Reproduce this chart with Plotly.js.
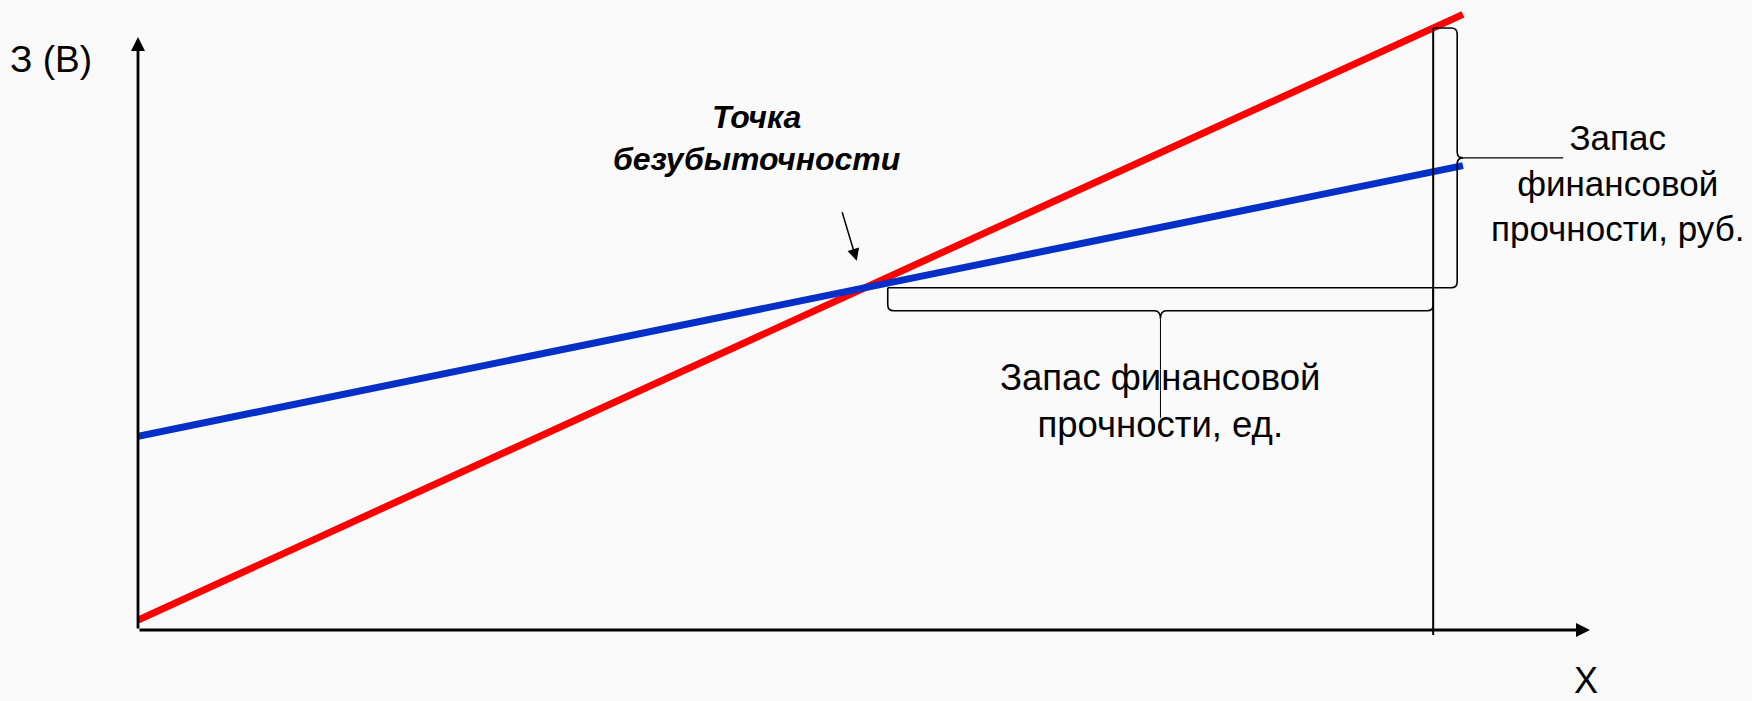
<!DOCTYPE html>
<html>
<head>
<meta charset="utf-8">
<script src="https://cdn.plot.ly/plotly-3.0.1.min.js"></script>
<style>
  html, body { margin: 0; padding: 0; background: #fafafa; }
  #chart { width: 1752px; height: 701px; }
</style>
</head>
<body>
<div id="chart"></div>
<script>
// ---- data ----
const volume = [0, 91.25];          // X: sales volume at the ends of the lines
const revenue = [1.6, 98.5];        // red line: revenue (В)
const costs = [31.0, 74.3];         // blue line: total costs (З)
const actualVolume = 89.2;          // actual sales volume (vertical line)

const yLabel = 'З (В)';
const xLabel = 'X';
const breakevenLabel = ['Точка', 'безубыточности'];
const marginUnitsLabel = 'Запас финансовой<br>прочности, ед.';
const marginRubLabel = 'Запас<br>финансовой<br>прочности, руб.';

// ---- derived values ----
const slope = (ys) => (ys[1] - ys[0]) / (volume[1] - volume[0]);
const rs = slope(revenue), cs = slope(costs);
const beX = (costs[0] - revenue[0]) / (rs - cs);
const beY = revenue[0] + rs * beX;
const revAt = (q) => revenue[0] + rs * q;

// pixel-to-data helpers
const X_RANGE = [0, 100], Y_RANGE = [0, 100];
const M = { l: 138, r: 162, t: 5, b: 71, pad: 0 };
const PW = 1752 - M.l - M.r, PH = 701 - M.t - M.b;
const dx = (px) => px * (X_RANGE[1] - X_RANGE[0]) / PW;
const dy = (px) => px * (Y_RANGE[1] - Y_RANGE[0]) / PH;
const pt = (u, v) => u + ',' + v;

// bottom brace (margin in units)
const bL = beX + dx(23), bR = actualVolume;
const bTop = beY, bBody = beY - dy(23);
const bMid = (bL + bR) / 2, bTip = bBody - dy(8);
const rx = dx(6), ry = dy(6);
const bottomBrace = 'M' + pt(bL, bTop) + ' L' + pt(bL, bBody + ry) +
  ' Q' + pt(bL, bBody) + ' ' + pt(bL + rx, bBody) +
  ' L' + pt(bMid - rx, bBody) + ' Q' + pt(bMid, bBody) + ' ' + pt(bMid, bTip) +
  ' Q' + pt(bMid, bBody) + ' ' + pt(bMid + rx, bBody) +
  ' L' + pt(bR - rx, bBody) + ' Q' + pt(bR, bBody) + ' ' + pt(bR, bBody + ry) +
  ' L' + pt(bR, bTop);

// right brace (margin in roubles)
const rX = actualVolume + dx(24);
const rTop = revAt(actualVolume), rBot = beY, rMid = (rTop + rBot) / 2;
const rTipX = rX + dx(6);
const rightBrace = 'M' + pt(actualVolume, rTop) + ' L' + pt(rX - rx, rTop) +
  ' Q' + pt(rX, rTop) + ' ' + pt(rX, rTop - ry) +
  ' L' + pt(rX, rMid + ry) + ' Q' + pt(rX, rMid) + ' ' + pt(rTipX, rMid) +
  ' Q' + pt(rX, rMid) + ' ' + pt(rX, rMid - ry) +
  ' L' + pt(rX, rBot + ry) + ' Q' + pt(rX, rBot) + ' ' + pt(rX - rx, rBot) +
  ' L' + pt(bL, rBot);

const traces = [
  { x: volume, y: revenue, mode: 'lines', line: { color: '#ff0000', width: 7 }, hoverinfo: 'skip' },
  { x: volume, y: costs, mode: 'lines', line: { color: '#0530c8', width: 7 }, hoverinfo: 'skip' }
];

const thin = { color: '#000', width: 1.6 };
const shapes = [
  { type: 'line', xref: 'x', yref: 'paper', x0: actualVolume, x1: actualVolume,
    y0: -5 / PH, y1: (revAt(actualVolume) - Y_RANGE[0]) / (Y_RANGE[1] - Y_RANGE[0]), line: { color: '#000', width: 2 } },
  { type: 'path', xref: 'x', yref: 'y', path: bottomBrace, line: thin },
  { type: 'path', xref: 'x', yref: 'y', path: rightBrace, line: thin },
  { type: 'line', xref: 'x', yref: 'y', x0: bMid, x1: bMid, y0: bTip, y1: bTip - dy(99), line: { color: '#000', width: 1 } },
  { type: 'line', xref: 'x', yref: 'y', x0: rTipX, x1: rTipX + dx(100), y0: rMid, y1: rMid, line: { color: '#000', width: 1.3 } }
];

const font = { family: 'Liberation Sans, Arial, sans-serif', color: '#000' };
const f = (size) => Object.assign({ size: size }, font);
const annotations = [
  // axes with arrows
  { x: X_RANGE[1], y: 0, ax: 0, ay: 0, axref: 'x', ayref: 'y', xref: 'x', yref: 'y', text: '',
    showarrow: true, arrowhead: 2, arrowsize: 1, arrowwidth: 2.8, arrowcolor: '#000', standoff: 0, startstandoff: 0 },
  { x: 0, y: 94.9, ax: 0, ay: 0, axref: 'x', ayref: 'y', xref: 'x', yref: 'y', text: '',
    showarrow: true, arrowhead: 2, arrowsize: 1, arrowwidth: 2.8, arrowcolor: '#000', standoff: 0, startstandoff: 0 },
  // breakeven pointer
  { x: beX - dx(8), y: beY + dy(27), ax: -15, ay: -50, xref: 'x', yref: 'y', text: '',
    showarrow: true, arrowhead: 2, arrowsize: 1.6, arrowwidth: 1.5, arrowcolor: '#000', standoff: 0 },
  // texts
  { x: -0.0599, y: 0.912, xref: 'paper', yref: 'paper', text: yLabel, showarrow: false,
    font: f(37), xanchor: 'center', yanchor: 'middle' },
  { x: 0.997, y: -0.08, xref: 'paper', yref: 'paper', text: xLabel, showarrow: false,
    font: f(36), xanchor: 'center', yanchor: 'middle' },
  { x: 42.6, y: 78.8, xref: 'x', yref: 'y',
    text: breakevenLabel.map(s => '<b><i>' + s + '</i></b>').join('<br>'),
    showarrow: false, font: f(32), xanchor: 'center', yanchor: 'middle' },
  { x: bMid, y: 36.6, xref: 'x', yref: 'y', text: marginUnitsLabel, showarrow: false,
    font: f(36.5), xanchor: 'center', yanchor: 'middle' },
  { x: 1.019, y: 0.716, xref: 'paper', yref: 'paper', text: marginRubLabel, showarrow: false,
    font: f(35), xanchor: 'center', yanchor: 'middle' }
];

const axis = { showgrid: false, zeroline: false, showline: false, showticklabels: false, ticks: '', fixedrange: true };

const layout = {
  width: 1752, height: 701,
  margin: M,
  paper_bgcolor: '#fafafa', plot_bgcolor: '#fafafa',
  showlegend: false,
  xaxis: Object.assign({}, axis, { range: X_RANGE }),
  yaxis: Object.assign({}, axis, { range: Y_RANGE }),
  shapes: shapes,
  annotations: annotations
};

Plotly.newPlot('chart', traces, layout, { displayModeBar: false, staticPlot: true });
</script>
</body>
</html>
